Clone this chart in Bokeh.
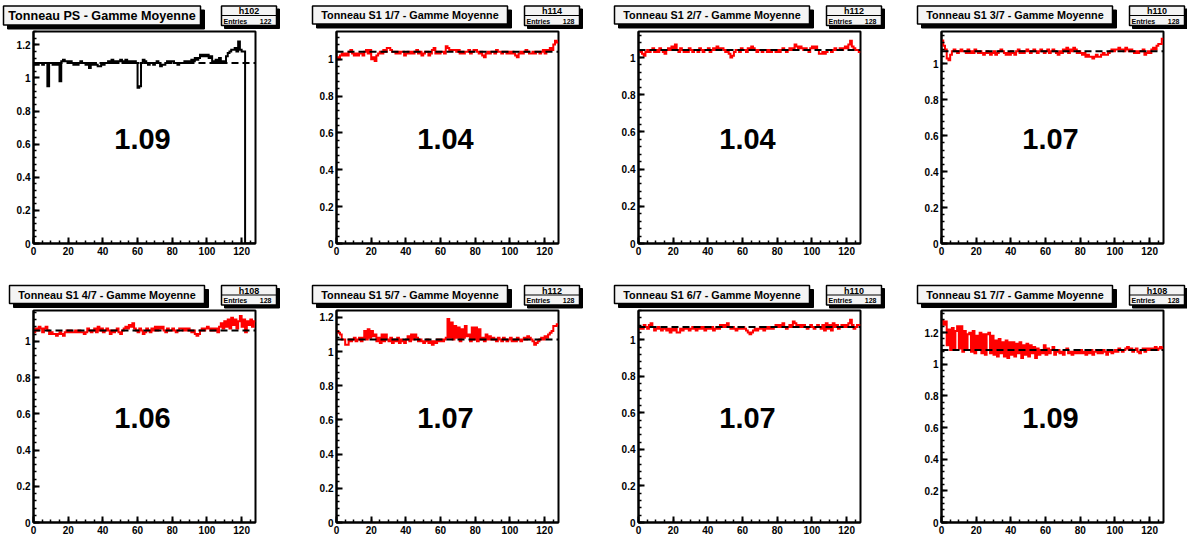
import numpy as np
from bokeh.plotting import figure
from bokeh.layouts import column, row
from bokeh.models import Range1d, FixedTicker, CustomJSTickFormatter, Span
from bokeh.core.properties import value
from bokeh.embed import file_html
from bokeh.resources import INLINE

# ---------------- data ----------------
titles = ["Tonneau PS - Gamme Moyenne", "Tonneau S1 1/7 - Gamme Moyenne",
          "Tonneau S1 2/7 - Gamme Moyenne", "Tonneau S1 3/7 - Gamme Moyenne",
          "Tonneau S1 4/7 - Gamme Moyenne", "Tonneau S1 5/7 - Gamme Moyenne",
          "Tonneau S1 6/7 - Gamme Moyenne", "Tonneau S1 7/7 - Gamme Moyenne"]
hist_names = ["h102", "h114", "h112", "h110", "h108", "h112", "h110", "h108"]
entries = [122, 128, 128, 128, 128, 128, 128, 128]
means = [1.09, 1.04, 1.04, 1.07, 1.06, 1.07, 1.07, 1.09]
y_max = [1.28, 1.15, 1.14, 1.18, 1.17, 1.24, 1.16, 1.34]
line_colors = ["#000000"] + ["#ff0000"] * 7
x_ticks = [0, 20, 40, 60, 80, 100, 120]
y_ticks = [0, 0.2, 0.4, 0.6, 0.8, 1.0, 1.2]

ps_vals = [1.08, 1.09, 1.08, 1.09, 1.09, 1.08, 1.09, 1.09,
           0.95,
           1.09, 1.09, 1.08, 1.09, 1.08, 1.09,
           0.98,
           1.10, 1.11, 1.10, 1.10, 1.09, 1.10,
           1.09, 1.08, 1.09, 1.08, 1.09, 1.10, 1.09, 1.09, 1.08, 1.09,
           1.06, 1.09, 1.08, 1.09, 1.08, 1.07, 1.07, 1.08, 1.08, 1.09,
           1.09, 1.10, 1.09, 1.11, 1.10, 1.10, 1.09, 1.10, 1.11, 1.10,
           1.10, 1.11, 1.09, 1.10, 1.09, 1.10, 1.10, 1.09,
           0.94, 0.95,
           1.09, 1.11, 1.10, 1.09, 1.08, 1.09, 1.09, 1.08, 1.09, 1.10,
           1.09, 1.07, 1.08, 1.08, 1.09, 1.10, 1.09, 1.10, 1.10, 1.09,
           1.09, 1.08, 1.09, 1.09, 1.09, 1.10, 1.09, 1.10, 1.10, 1.11,
           1.10, 1.12, 1.11, 1.12,
           1.14, 1.13, 1.14, 1.13, 1.14, 1.12, 1.13,
           1.10, 1.09, 1.11, 1.09, 1.12, 1.09, 1.10, 1.10,
           1.13, 1.15, 1.16, 1.17, 1.17, 1.18, 1.16,
           1.22,
           1.17, 1.16, 1.16,
           0, 0, 0, 0, 0, 0]

s1_1_vals = [1.01, 1.00, 1.02, 1.03, 1.02, 1.03, 1.02, 1.04, 1.05, 1.03,
             1.02, 1.03, 1.02, 1.03, 1.03, 1.02, 1.04, 1.05, 1.03, 1.05,
             1.00, 1.01, 0.99, 1.02, 1.03, 1.04, 1.03, 1.05, 1.04, 1.06,
             1.06, 1.05, 1.04, 1.04, 1.03, 1.04, 1.03, 1.04, 1.04, 1.02,
             1.03, 1.04, 1.03, 1.04, 1.03, 1.04, 1.05, 1.03, 1.04, 1.02,
             1.03, 1.04, 1.04, 1.02, 1.03, 1.05, 1.06, 1.03, 1.04, 1.03,
             1.04, 1.04, 1.03, 1.07, 1.06, 1.05, 1.05, 1.05, 1.05, 1.04,
             1.05, 1.03, 1.04, 1.03, 1.04, 1.04, 1.05, 1.03, 1.04, 1.05,
             1.05, 1.04, 1.03, 1.04, 1.02, 1.01, 1.03, 1.04, 1.03, 1.04,
             1.04, 1.03, 1.05, 1.04, 1.04, 1.03, 1.04, 1.04, 1.03, 1.04,
             1.03, 1.04, 1.03, 1.02, 1.01, 1.03, 1.04, 1.03, 1.04, 1.05,
             1.04, 1.03, 1.03, 1.04, 1.03, 1.04, 1.04, 1.03, 1.04, 1.05,
             1.03, 1.05, 1.05, 1.06, 1.05, 1.08, 1.10, 1.09]

s1_2_vals = [1.04, 1.03, 1.02, 1.01, 1.03, 1.04, 1.03, 1.04, 1.05, 1.03,
             1.04, 1.03, 1.05, 1.04, 1.03, 1.02, 1.04, 1.05, 1.04, 1.06,
             1.05, 1.07, 1.04, 1.03, 1.05, 1.04, 1.03, 1.04, 1.03, 1.05,
             1.04, 1.03, 1.04, 1.04, 1.03, 1.05, 1.04, 1.03, 1.04, 1.04,
             1.05, 1.03, 1.04, 1.05, 1.04, 1.06, 1.04, 1.05, 1.05, 1.04,
             1.03, 1.04, 1.02, 1.00, 1.01, 1.03, 1.04, 1.04, 1.03, 1.05,
             1.04, 1.04, 1.03, 1.05, 1.04, 1.06, 1.05, 1.04, 1.03, 1.04,
             1.04, 1.03, 1.04, 1.04, 1.03, 1.04, 1.03, 1.04, 1.04, 1.03,
             1.04, 1.03, 1.04, 1.05, 1.04, 1.03, 1.04, 1.05, 1.04, 1.05,
             1.07, 1.06, 1.05, 1.06, 1.05, 1.04, 1.05, 1.04, 1.03, 1.05,
             1.06, 1.05, 1.06, 1.04, 1.02, 1.02, 1.03, 1.02, 1.03, 1.04,
             1.04, 1.03, 1.04, 1.05, 1.04, 1.04, 1.05, 1.04, 1.05, 1.06,
             1.05, 1.07, 1.09, 1.06, 1.05, 1.04, 1.04, 1.03]

s1_3_vals = [1.13, 1.10, 1.08, 1.03, 1.02, 1.05, 1.07, 1.08, 1.07, 1.06,
             1.07, 1.08, 1.07, 1.07, 1.06, 1.08, 1.06, 1.07, 1.06, 1.08,
             1.07, 1.06, 1.07, 1.06, 1.05, 1.06, 1.07, 1.06, 1.05, 1.06,
             1.07, 1.05, 1.06, 1.07, 1.08, 1.07, 1.06, 1.05, 1.06, 1.05,
             1.07, 1.06, 1.05, 1.07, 1.08, 1.06, 1.07, 1.06, 1.07, 1.08,
             1.07, 1.06, 1.07, 1.08, 1.07, 1.06, 1.07, 1.08, 1.07, 1.06,
             1.07, 1.08, 1.06, 1.07, 1.08, 1.07, 1.06, 1.05, 1.07, 1.06,
             1.08, 1.07, 1.09, 1.06, 1.08, 1.07, 1.09, 1.08, 1.06, 1.07,
             1.06, 1.05, 1.06, 1.04, 1.05, 1.04, 1.04, 1.03, 1.04, 1.05,
             1.04, 1.04, 1.05, 1.06, 1.05, 1.05, 1.06, 1.07, 1.08, 1.07,
             1.08, 1.08, 1.09, 1.08, 1.08, 1.07, 1.09, 1.08, 1.07, 1.08,
             1.07, 1.06, 1.07, 1.06, 1.07, 1.07, 1.08, 1.05, 1.06, 1.07,
             1.06, 1.08, 1.09, 1.08, 1.10, 1.11, 1.11, 1.14]

s1_4_vals = [1.05, 1.07, 1.06, 1.08, 1.07, 1.05, 1.07, 1.08, 1.06, 1.04,
             1.05, 1.04, 1.04, 1.03, 1.04, 1.05, 1.04, 1.03, 1.05, 1.06,
             1.05, 1.06, 1.05, 1.05, 1.06, 1.05, 1.06, 1.05, 1.05, 1.04,
             1.05, 1.07, 1.06, 1.05, 1.06, 1.07, 1.05, 1.08, 1.06, 1.07,
             1.05, 1.06, 1.07, 1.06, 1.04, 1.06, 1.05, 1.06, 1.07, 1.05,
             1.04, 1.06, 1.07, 1.08, 1.07, 1.09, 1.08, 1.10, 1.07, 1.06,
             1.05, 1.07, 1.06, 1.04, 1.05, 1.07, 1.06, 1.05, 1.07, 1.06,
             1.08, 1.06, 1.08, 1.07, 1.08, 1.06, 1.05, 1.07, 1.06, 1.06,
             1.07, 1.06, 1.05, 1.06, 1.07, 1.07, 1.06, 1.07, 1.06, 1.07,
             1.06, 1.05, 1.06, 1.04, 1.03, 1.04, 1.06, 1.07, 1.06, 1.07,
             1.08, 1.07, 1.06, 1.07, 1.06, 1.07, 1.05, 1.08, 1.10, 1.07,
             1.11, 1.08, 1.12, 1.07, 1.13, 1.09, 1.12, 1.07, 1.11, 1.14,
             1.08, 1.12, 1.05, 1.11, 1.09, 1.12, 1.08, 1.11]

s1_5_vals = [1.12, 1.11, 1.10, 1.07, 1.07, 1.04, 1.04, 1.07, 1.06, 1.07,
             1.08, 1.06, 1.07, 1.08, 1.06, 1.08, 1.12, 1.07, 1.13, 1.08,
             1.12, 1.09, 1.10, 1.06, 1.08, 1.05, 1.10, 1.06, 1.10, 1.07,
             1.06, 1.08, 1.05, 1.07, 1.06, 1.08, 1.05, 1.07, 1.06, 1.05,
             1.07, 1.09, 1.06, 1.10, 1.07, 1.10, 1.08, 1.06, 1.07, 1.06,
             1.05, 1.06, 1.07, 1.05, 1.06, 1.04, 1.06, 1.05, 1.07, 1.06,
             1.07, 1.06, 1.07, 1.08, 1.19, 1.08, 1.17, 1.07, 1.15, 1.08,
             1.14, 1.06, 1.13, 1.08, 1.15, 1.09, 1.10, 1.06, 1.14, 1.07,
             1.14, 1.06, 1.13, 1.07, 1.08, 1.06, 1.10, 1.07, 1.09, 1.07,
             1.08, 1.07, 1.06, 1.08, 1.07, 1.06, 1.08, 1.07, 1.06, 1.07,
             1.08, 1.06, 1.07, 1.06, 1.08, 1.07, 1.06, 1.07, 1.08, 1.07,
             1.09, 1.08, 1.07, 1.06, 1.04, 1.05, 1.06, 1.07, 1.08, 1.07,
             1.09, 1.08, 1.10, 1.11, 1.12, 1.15, 1.15, 1.16]

s1_6_vals = [1.06, 1.07, 1.06, 1.08, 1.07, 1.06, 1.08, 1.09, 1.07, 1.05,
             1.06, 1.07, 1.06, 1.05, 1.07, 1.06, 1.05, 1.06, 1.04, 1.06,
             1.05, 1.06, 1.04, 1.04, 1.06, 1.05, 1.06, 1.07, 1.06, 1.05,
             1.06, 1.07, 1.06, 1.05, 1.06, 1.07, 1.06, 1.07, 1.05, 1.06,
             1.07, 1.06, 1.07, 1.05, 1.06, 1.07, 1.06, 1.08, 1.07, 1.08,
             1.07, 1.09, 1.07, 1.06, 1.07, 1.06, 1.05, 1.06, 1.07, 1.06,
             1.07, 1.06, 1.05, 1.04, 1.03, 1.04, 1.05, 1.06, 1.05, 1.06,
             1.07, 1.06, 1.05, 1.06, 1.07, 1.06, 1.07, 1.06, 1.07, 1.08,
             1.07, 1.08, 1.07, 1.09, 1.07, 1.06, 1.07, 1.08, 1.07, 1.10,
             1.09, 1.08, 1.07, 1.08, 1.07, 1.08, 1.07, 1.06, 1.07, 1.08,
             1.07, 1.06, 1.07, 1.08, 1.07, 1.06, 1.08, 1.05, 1.09, 1.06,
             1.08, 1.05, 1.09, 1.07, 1.08, 1.06, 1.07, 1.08, 1.07, 1.08,
             1.07, 1.09, 1.11, 1.08, 1.06, 1.07, 1.08, 1.08]

s1_7_vals = [1.28, 1.25, 1.27, 1.12, 1.22, 1.09, 1.23, 1.10, 1.21, 1.24,
             1.10, 1.24, 1.08, 1.21, 1.09, 1.19, 1.20, 1.08, 1.21, 1.07,
             1.18, 1.09, 1.20, 1.07, 1.19, 1.06, 1.19, 1.20, 1.07, 1.18,
             1.06, 1.15, 1.05, 1.16, 1.07, 1.14, 1.05, 1.15, 1.04, 1.14,
             1.06, 1.14, 1.05, 1.13, 1.07, 1.14, 1.04, 1.12, 1.06, 1.13,
             1.05, 1.12, 1.07, 1.11, 1.04, 1.10, 1.06, 1.09, 1.07, 1.12,
             1.06, 1.10, 1.07, 1.09, 1.11, 1.06, 1.08, 1.09, 1.07, 1.08,
             1.06, 1.09, 1.10, 1.07, 1.08, 1.06, 1.08, 1.07, 1.08, 1.07,
             1.09, 1.07, 1.08, 1.06, 1.08, 1.07, 1.09, 1.06, 1.08, 1.09,
             1.07, 1.08, 1.07, 1.09, 1.08, 1.06, 1.08, 1.09, 1.07, 1.08,
             1.09, 1.08, 1.10, 1.09, 1.08, 1.09, 1.10, 1.11, 1.09, 1.10,
             1.08, 1.09, 1.10, 1.08, 1.07, 1.09, 1.10, 1.08, 1.10, 1.09,
             1.10, 1.09, 1.10, 1.11, 1.09, 1.10, 1.11, 1.10]

series = [ps_vals, s1_1_vals, s1_2_vals, s1_3_vals,
          s1_4_vals, s1_5_vals, s1_6_vals, s1_7_vals]
N_BINS = 128

# ---------------- layout ----------------
FONT = "Liberation Sans"
FIG_W = [303, 302, 303, 279]
TOTAL_W = sum(FIG_W)
LEFT = 33
FRAME_W = 222
FRAME_H = 212
ROW_BOTTOM = [37, 17]
HEADER_H = [30, 29]
HEADER_BOX_TOP = [5.5, 5]


def make_panel(i):
    r, k = divmod(i, 4)
    vals = series[i]
    edges = np.arange(N_BINS + 1)
    yv = list(vals) + [vals[-1]]
    p = figure(frame_width=FRAME_W, frame_height=FRAME_H,
               min_border_left=LEFT, min_border_right=FIG_W[k] - LEFT - FRAME_W,
               min_border_top=1, min_border_bottom=ROW_BOTTOM[r],
               x_range=Range1d(0, N_BINS), y_range=Range1d(0, y_max[i]),
               toolbar_location=None, output_backend="svg")
    p.grid.visible = False
    p.outline_line_color = "black"
    p.outline_line_width = 2
    p.background_fill_color = "white"
    p.border_fill_color = "white"
    for ax in (p.xaxis[0], p.yaxis[0]):
        ax.axis_line_width = 2
        ax.axis_line_color = "black"
        ax.major_tick_in = 6
        ax.major_tick_out = 0
        ax.minor_tick_in = 3
        ax.minor_tick_out = 0
        ax.major_tick_line_width = 2
        ax.minor_tick_line_width = 1.5
        ax.major_label_text_font = FONT
        ax.major_label_text_font_style = "bold"
        ax.major_label_text_font_size = "10px"
        ax.major_label_text_color = "black"
        ax.major_label_standoff = 3
    p.xaxis.ticker = FixedTicker(ticks=x_ticks, minor_ticks=list(range(0, N_BINS + 1, 5)))
    p.yaxis.ticker = FixedTicker(ticks=y_ticks,
                                 minor_ticks=[round(0.04 * j, 2) for j in range(0, 36)])
    p.yaxis.formatter = CustomJSTickFormatter(code="return String(Math.round(tick*10)/10);")

    p.step(x=edges, y=yv, mode="after", line_color=line_colors[i], line_width=2,
           line_join="miter")
    p.add_layout(Span(location=means[i], dimension="width", line_color="black",
                      line_width=2, line_dash="7 4"))
    p.text(x=[N_BINS / 2], y=[y_max[i] / 2], text=[f"{means[i]:.2f}"],
           text_font=value(FONT), text_font_style="bold", text_font_size="29px",
           text_align="center", text_baseline="middle", text_color="black",
           x_offset=-2, y_offset=1)
    return p


def make_header(r):
    H = HEADER_H[r]
    hp = figure(width=TOTAL_W, height=H, x_range=Range1d(0, TOTAL_W),
                y_range=Range1d(H, 0), min_border=0, toolbar_location=None,
                output_backend="svg", x_axis_location=None, y_axis_location=None)
    hp.grid.visible = False
    hp.outline_line_color = None
    hp.background_fill_color = "white"
    hp.border_fill_color = "white"
    top = HEADER_BOX_TOP[r]
    for k in range(4):
        i = r * 4 + k
        fl = sum(FIG_W[:k]) + LEFT
        fr = fl + FRAME_W
        # title box
        if i == 0:
            tl, tr = 3, 200
            tb = top + 19
        else:
            tl = fl - 24
            tr = tl + 195
            tb = top + 18
        hp.quad(left=tl + 4, right=tr + 4, top=top + 4, bottom=tb + 4,
                fill_color="black", line_color="black")
        hp.quad(left=tl, right=tr, top=top, bottom=tb, fill_color="#f4f4f4",
                line_color="black", line_width=1.5)
        fs = "12.6px" if i == 0 else "10.8px"
        hp.text(x=[(tl + tr) / 2], y=[(top + tb) / 2], text=[titles[i]],
                text_font=value(FONT), text_font_style="bold", text_font_size=fs,
                text_align="center", text_baseline="middle", text_color="black")
        # stats box
        sl = fr - 34
        sr = fr + 21
        sb = top + 19.5
        sep = top + 9.5
        hp.quad(left=sl + 3, right=sr + 3, top=top + 3, bottom=sb + 3,
                fill_color="black", line_color="black")
        hp.quad(left=sl, right=sr, top=top, bottom=sb, fill_color="#f4f4f4",
                line_color="black", line_width=1.5)
        hp.line(x=[sl, sr], y=[sep, sep], line_color="black", line_width=1.2)
        hp.text(x=[(sl + sr) / 2], y=[(top + sep) / 2 + 0.5], text=[hist_names[i]],
                text_font=value(FONT), text_font_style="bold", text_font_size="9px",
                text_align="center", text_baseline="middle", text_color="black")
        hp.text(x=[sl + 2], y=[(sep + sb) / 2 + 0.5], text=["Entries"],
                text_font=value(FONT), text_font_style="bold", text_font_size="7px",
                text_align="left", text_baseline="middle", text_color="black")
        hp.text(x=[sr - 5], y=[(sep + sb) / 2 + 0.5], text=[str(entries[i])],
                text_font=value(FONT), text_font_style="bold", text_font_size="7px",
                text_align="right", text_baseline="middle", text_color="black")
    return hp


for s in series:
    assert len(s) == N_BINS

panels = [make_panel(i) for i in range(8)]
layout = column(make_header(0), row(*panels[0:4]),
                make_header(1), row(*panels[4:8]))

open("out.html", "w").write(file_html(layout, INLINE))
